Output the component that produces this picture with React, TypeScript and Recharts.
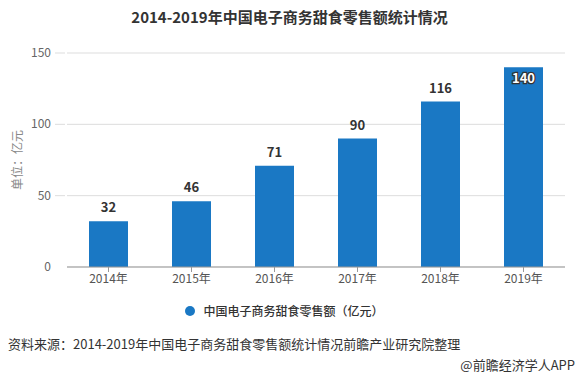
import React from 'react';
import { BarChart, Bar, XAxis, YAxis, CartesianGrid, Legend, LabelList } from 'recharts';

const years = ['2014年', '2015年', '2016年', '2017年', '2018年', '2019年'];
const sales = [32, 46, 71, 90, 116, 140];
const yTicks = [0, 50, 100, 150];

const seriesName = '中国电子商务甜食零售额（亿元）';
const barColor = '#1a78c4';
const font = '"Noto Sans CJK SC", "Noto Sans", sans-serif';

const data = years.map((year, i) => ({ year, value: sales[i] }));

// y tick with a short extension of the grid line to the left of the axis
const YTick = (props: any) => {
    const { x, y, payload } = props;
    return (
        <g>
            {payload.value !== 0 && <line x1={x - 4} x2={x + 6} y1={y} y2={y} stroke="#ddd" />}
            <text x={x - 8} y={y} dy={4} textAnchor="end" fill="#666" fontSize={12} fontFamily={font}>
                {payload.value}
            </text>
        </g>
    );
};

const YLabel = (props: any) => {
    const { viewBox } = props;
    const cx = viewBox.x + 22;
    const cy = viewBox.y + viewBox.height / 2;
    return (
        <text x={cx} y={cy} transform={`rotate(-90, ${cx}, ${cy})`} textAnchor="middle" fill="#888" fontSize={12} fontFamily={font}>
            单位：亿元
        </text>
    );
};

const ValueLabel = (props: any) => {
    const { x, y, width, value } = props;
    const cx = x + width / 2;
    if (value === 140) {
        return (
            <text x={cx} y={y + 16} textAnchor="middle" fontSize={13} fontWeight="bold" fill="#fff"
                stroke="#333" strokeWidth={2.5} paintOrder="stroke" fontFamily={font}>
                {value}
            </text>
        );
    }
    return (
        <text x={cx} y={y - 9} textAnchor="middle" fontSize={13} fontWeight="bold" fill="#333" fontFamily={font}>
            {value}
        </text>
    );
};

const LegendContent = () => (
    <div style={{ display: 'flex', alignItems: 'center', justifyContent: 'center', fontFamily: font }}>
        <span style={{ width: 10, height: 10, borderRadius: 5, background: barColor, marginRight: 8, marginLeft: -10 }} />
        <span style={{ fontSize: 12, color: '#333', fontWeight: 500 }}>{seriesName}</span>
    </div>
);

export default function App() {
    return (
        <div style={{ position: 'absolute', top: 0, left: 0, width: 579, height: 378, background: '#fff', fontFamily: font }}>
            <div style={{ position: 'absolute', top: 6, left: 0, width: 579, textAlign: 'center', fontSize: 15, fontWeight: 'bold', color: '#333' }}>
                2014-2019年中国电子商务甜食零售额统计情况
            </div>
            <BarChart width={579} height={378} data={data} margin={{ top: 53, right: 14, bottom: 64, left: 0 }}>
                <CartesianGrid vertical={false} stroke="#ddd" />
                <XAxis dataKey="year" axisLine={{ stroke: '#999' }} tickLine={{ stroke: '#999' }} tickSize={5}
                    tick={{ fill: '#555', fontSize: 12, fontFamily: font }} height={30} />
                <YAxis width={67} domain={[0, 150]} ticks={yTicks} axisLine={false} tickLine={false} tick={<YTick />}
                    label={<YLabel />} />
                <Legend content={<LegendContent />} wrapperStyle={{ top: 302, left: 0, width: 579 }} />
                <Bar dataKey="value" name={seriesName} fill={barColor} barSize={39} isAnimationActive={false}>
                    <LabelList dataKey="value" content={<ValueLabel />} />
                </Bar>
            </BarChart>
            <div style={{ position: 'absolute', top: 334, left: 8, fontSize: 13, color: '#333' }}>
                资料来源：2014-2019年中国电子商务甜食零售额统计情况前瞻产业研究院整理
            </div>
            <div style={{ position: 'absolute', top: 355, right: 4, fontSize: 13, color: '#333' }}>
                @前瞻经济学人APP
            </div>
        </div>
    );
}
